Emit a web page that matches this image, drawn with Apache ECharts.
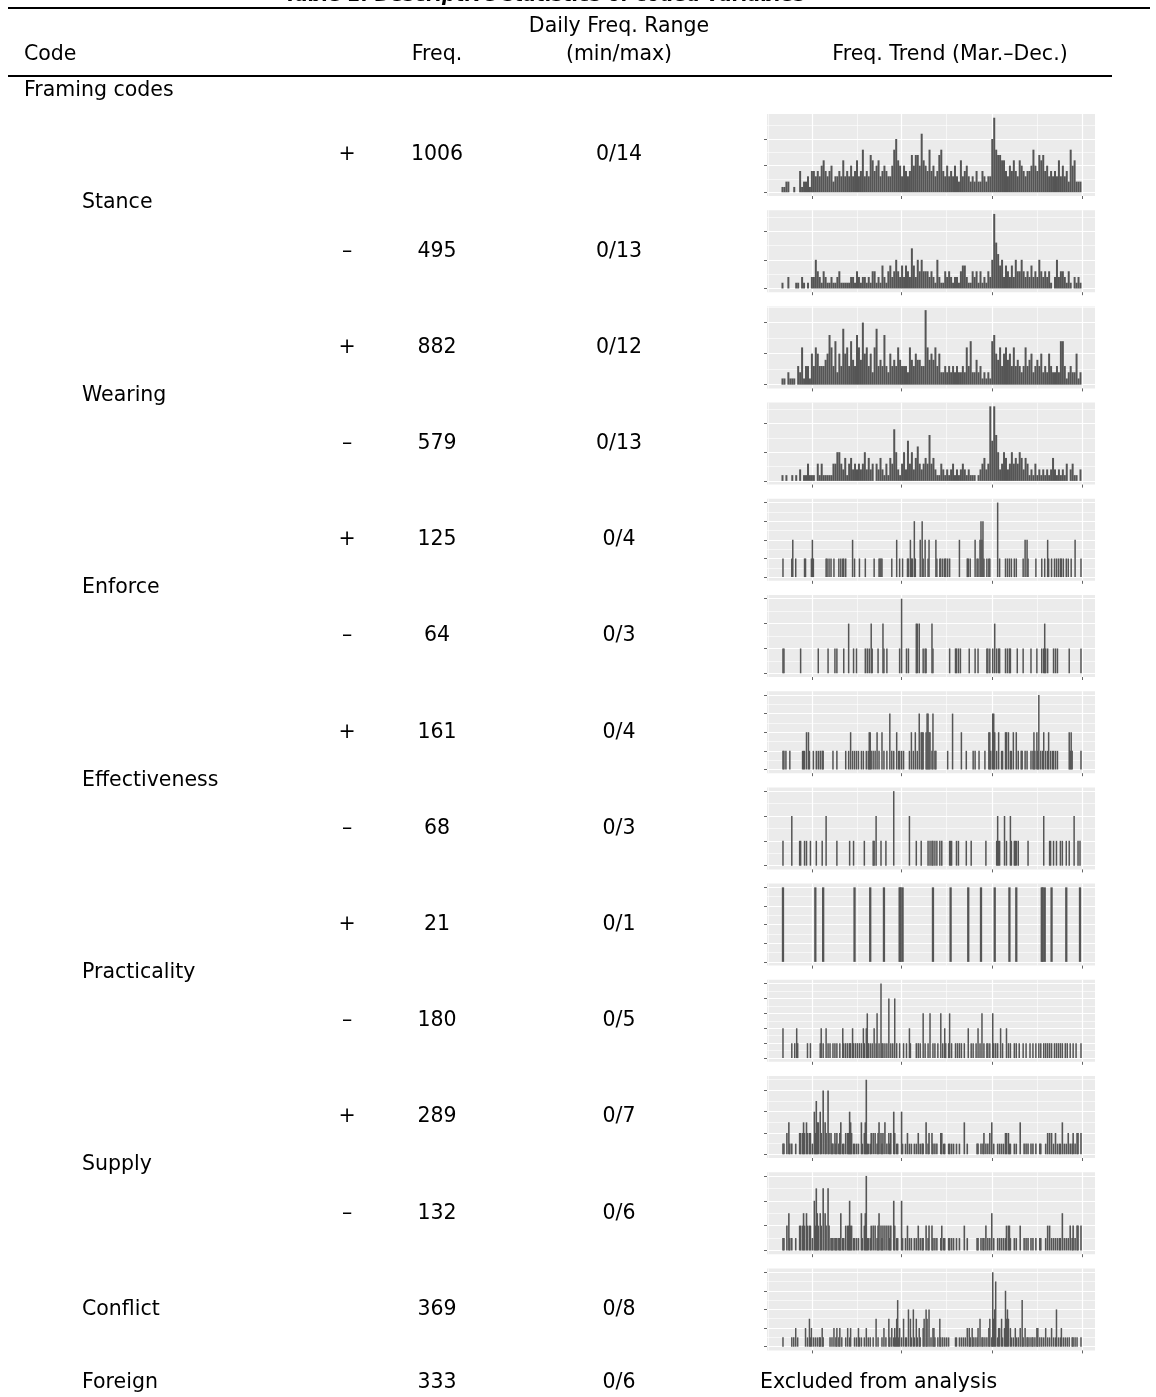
<!DOCTYPE html>
<html><head><meta charset="utf-8">
<script src="https://cdn.jsdelivr.net/npm/echarts@6/dist/echarts.min.js"></script>
<style>html,body{margin:0;padding:0;background:#fff}#c{width:1156px;height:1397px}</style>
</head><body><div id="c"></div>
<script>
// ---------- table text ----------
const codeNames = ['Stance','Wearing','Enforce','Effectiveness','Practicality','Supply'];
const freqPos = [1006, 882, 125, 161, 21, 289];
const freqNeg = [495, 579, 64, 68, 180, 132];
const maxPos = [14, 12, 4, 4, 1, 7];
const maxNeg = [13, 13, 3, 3, 5, 6];
const conflictFreq = 369, conflictMax = 8;
const foreignFreq = 333, foreignMax = 6;

// ---------- daily series (2-day bins, Mar 1 onward) ----------
const stancePos = [1,1,2,2,0,0,1,0,0,4, 1,2,2,3,1,4,4,3,4,3, 5,6,4,3,4,5,2,3,3,4, 3,6,3,4,3,5,3,4,6,3, 4,8,3,4,3,7,6,4,5,6, 3,4,5,4,3,3,5,8,10,6, 5,3,5,4,3,4,7,5,7,7, 5,11,6,5,4,8,4,5,3,4, 7,8,4,3,5,3,4,3,5,3, 2,6,3,4,5,3,2,3,2,4, 2,2,4,3,2,3,3,10,14,8, 7,7,6,6,4,3,5,4,6,4, 3,6,5,4,3,4,4,5,8,5, 4,7,6,7,4,5,3,4,3,4, 3,6,3,5,3,4,2,8,5,6, 2,2,2];
const stanceNeg = [1,0,0,2,0,0,0,1,1,0, 2,1,0,1,0,2,2,5,3,2, 1,3,2,1,1,2,1,1,2,3, 1,1,1,1,1,2,2,1,3,2, 1,2,2,1,2,1,3,3,1,2, 1,4,2,1,3,4,2,3,5,3, 2,4,2,4,3,2,7,4,2,5, 3,5,3,3,3,2,3,2,1,5, 2,1,1,3,2,3,2,1,2,2, 1,3,4,4,2,1,1,3,2,3, 1,3,1,2,1,3,2,5,13,8, 6,4,5,2,4,3,2,4,2,5, 3,3,5,3,2,3,2,4,2,3, 2,5,3,2,3,2,3,1,0,2, 5,2,3,3,2,1,3,1,0,2, 1,2,1];
const wearingPos = [1,1,0,2,1,1,1,0,3,2, 6,1,3,3,1,5,3,6,5,3, 3,3,4,5,8,6,3,7,2,5, 3,9,5,6,3,7,4,3,8,6, 4,10,5,6,3,5,2,6,9,3, 4,3,8,3,2,5,3,4,3,6, 4,3,3,3,2,6,4,3,5,4, 4,3,3,12,6,4,5,4,6,3, 5,2,2,3,2,3,2,3,2,3, 2,2,3,2,6,3,7,2,2,4, 2,3,1,2,1,2,1,7,8,5, 4,6,3,5,6,4,5,3,6,3, 4,3,2,3,6,3,4,5,2,3, 4,3,5,2,3,2,5,3,2,2, 3,2,7,7,3,1,2,3,2,2, 5,1,2];
const wearingNeg = [1,0,1,0,0,1,0,1,0,2, 0,1,1,3,1,1,1,0,3,1, 3,1,1,1,1,1,3,3,5,5, 3,2,4,1,3,4,2,3,2,3, 2,3,5,2,4,2,3,0,3,2, 4,2,1,3,1,4,3,9,5,2, 1,3,5,2,7,3,5,2,4,6, 3,2,3,4,3,8,3,4,2,1, 1,3,2,1,2,1,2,3,1,2, 1,2,3,2,1,2,1,1,1,0, 1,2,3,4,2,3,13,7,13,8, 5,2,3,5,4,2,3,5,3,4, 3,5,4,2,4,3,1,2,1,3, 1,2,1,2,1,2,1,2,4,2, 1,2,1,2,1,3,0,2,3,1, 1,0,2];

// ---------- sparse series (day index from Mar 1, count) ----------
const enforcePosDays = [1,10,11,14,23,24,30,31,32,45, 46,48,50,53,58,60,62,63,65,72, 74,79,85,94,99,100,101,102,112,117, 120,123,128,129,131,132,133,135,136,141, 143,144,146,149,150,157,158,161,162,164, 166,167,169,171,181,189,190,192,197,199, 200,202,203,204,205,206,209,211,212,220, 222,228,230,232,234,237,239,246,248,250, 251,259,265,268,271,272,275,278,280,282, 284,285,287,290,292,295,299,305];
const enforcePosVals = [1,1,2,1,1,1,1,2,1,1, 1,1,1,1,1,1,1,1,1,2, 1,1,1,1,1,1,1,1,1,2, 1,1,1,1,2,1,1,3,1,2, 3,1,2,1,2,2,1,1,1,1, 1,1,1,1,2,1,1,1,2,1, 1,2,3,2,3,1,1,1,1,4, 1,1,1,1,1,1,1,1,2,2, 1,1,1,1,2,1,1,1,1,1, 1,1,1,1,1,1,2,1];
const enforceNegDays = [1,2,19,37,47,54,56,63,68,73, 76,85,87,89,91,92,98,103,104,107, 120,122,127,129,137,138,140,144,146,147, 153,154,171,177,178,180,182,191,197,200, 209,210,212,215,217,219,221,222,228,230, 232,233,240,246,254,260,265,267,268,269, 271,277,279,281,293,305];
const enforceNegVals = [1,1,1,1,1,1,1,1,2,1, 1,1,1,1,2,1,1,2,1,1, 1,3,1,1,2,2,2,1,1,1, 2,1,1,1,1,1,1,1,1,1, 1,1,1,1,2,1,1,1,1,1, 1,1,1,1,1,1,1,1,2,1, 1,1,1,1,1,1];
const effectPosDays = [1,2,4,8,21,22,23,25,27,28, 32,35,37,39,41,42,52,56,65,68, 70,72,74,76,78,81,83,86,88,89, 90,91,93,95,97,99,102,104,107,110, 112,114,117,119,120,122,124,130,132,134, 136,138,140,142,143,144,147,148,149,150, 151,153,154,156,157,169,174,183,188,195, 197,201,207,211,212,213,215,216,217,219, 221,224,225,228,229,231,233,234,236,239, 241,244,245,248,250,254,256,257,258,260, 261,262,264,266,267,269,271,272,274,276, 277,279,281,293,294,295,296,305];
const effectPosVals = [1,1,1,1,1,1,1,2,2,1, 1,1,1,1,1,1,1,1,1,1, 2,1,1,1,1,1,1,1,1,2, 2,1,1,1,2,1,2,1,1,3, 1,1,2,1,1,1,1,1,2,1, 2,1,3,2,2,2,2,3,3,2, 2,1,3,1,1,1,3,2,1,1, 1,1,1,2,2,1,3,3,2,1, 2,1,1,2,2,2,1,1,2,2, 1,1,1,1,1,1,1,2,1,2, 1,4,1,1,2,1,1,2,1,1, 1,1,1,2,1,2,1,1];
const effectNegDays = [1,10,18,19,23,25,29,35,41,45, 56,69,73,84,93,94,96,101,106,114, 130,137,142,149,151,153,154,156,158,161, 163,171,172,173,178,180,188,193,208,219, 220,221,222,227,229,233,234,237,238,239, 241,251,267,273,274,277,280,284,286,290, 293,298,302,304];
const effectNegVals = [1,2,1,1,1,1,1,1,1,2, 1,1,1,1,1,1,2,1,1,3, 2,1,1,1,1,1,1,1,1,1, 1,1,1,1,1,1,1,1,1,1, 2,1,1,2,1,2,1,1,1,1, 1,1,2,1,1,1,1,1,1,1, 1,2,1,1];
const practPosDays = [1,34,42,74,90,104,120,121,123,154,172,190,203,217,232,239,265,266,268,275,290,304];
const practPosVals = [1,1,1,1,1,1,1,1,1,1,1,1,1,1,1,1,1,1,1,1,1,1];
const practNegDays = [1,10,13,15,16,26,29,39,40,42, 45,47,49,52,54,56,59,62,63,65, 67,69,70,72,73,75,77,79,81,83, 84,86,87,88,90,92,94,96,97,99, 101,102,103,105,107,109,111,113,115,117, 120,124,127,130,131,137,139,141,144,146, 149,151,154,156,159,162,164,166,167,170, 171,173,177,179,181,183,186,190,193,195, 198,200,202,204,206,209,210,212,215,216, 218,220,223,225,229,231,233,237,239,242, 246,249,253,256,259,262,264,267,269,271, 273,275,278,280,282,284,286,289,291,294, 297,300,305];
const practNegVals = [2,1,1,2,1,1,1,1,2,1, 2,1,1,1,1,1,1,2,1,1, 1,1,1,2,1,1,1,1,1,2, 1,2,3,1,1,1,2,1,3,1, 5,1,1,1,1,4,1,1,4,1, 1,1,1,2,1,1,1,1,3,1, 1,3,1,1,1,3,1,2,1,1, 3,1,1,1,1,1,1,2,1,1, 1,2,1,3,1,1,1,1,3,1, 1,1,2,1,2,1,1,1,1,1, 1,1,1,1,1,1,1,1,1,1, 1,1,1,1,1,1,1,1,1,1, 1,1,1];
const supplyDays = [1,2,5,7,8,10,14,18,19,21, 22,23,25,26,28,29,31,33,34,35, 36,37,39,40,42,44,45,47,48,50, 51,52,54,55,56,58,59,60,62,63, 65,67,68,69,70,71,73,74,76,78, 81,82,84,85,86,87,88,90,91,93, 95,97,98,99,101,102,103,105,107,109, 110,111,114,115,117,118,122,123,126,128, 130,132,135,137,139,141,143,144,147,149, 150,153,154,156,158,162,163,165,166,170, 171,173,175,178,181,186,189,199,200,203, 205,206,208,210,212,214,216,220,222,224, 226,228,229,231,232,233,237,239,243,247, 249,251,254,256,259,263,264,269,271,273, 275,277,279,281,283,284,286,288,290,292, 294,296,297,299,301,302,305];
const supplyPosVals = [1,1,2,3,1,1,1,2,2,2, 3,2,3,2,2,2,1,4,2,5, 3,3,4,2,6,3,2,6,2,2, 1,1,2,1,2,1,2,3,1,1, 2,2,2,4,3,2,1,1,1,1, 3,1,2,3,7,1,1,1,2,2, 2,1,2,3,2,1,2,3,1,2, 1,2,4,2,1,1,4,1,1,2, 1,1,1,1,2,1,1,1,3,1, 2,2,1,1,1,2,2,1,1,1, 1,1,1,1,1,3,1,1,1,1, 1,2,1,1,2,3,1,1,1,1, 1,2,2,2,1,1,1,1,3,1, 1,1,1,1,1,1,1,1,2,2, 2,1,2,1,1,1,3,1,1,2, 1,1,2,1,2,2,2];
const supplyNegVals = [1,1,2,3,1,1,1,2,2,2, 3,2,3,2,2,2,1,4,2,5, 3,2,3,2,5,3,2,5,2,1, 1,1,1,1,1,1,1,3,1,1, 2,2,2,4,2,2,1,1,1,1, 3,1,2,3,6,1,1,1,2,2, 2,1,2,3,2,1,2,2,2,2, 1,2,4,2,1,1,4,1,1,2, 1,1,1,1,2,1,1,1,2,1, 2,2,1,1,1,1,2,1,1,1, 1,1,1,1,1,2,1,1,1,1, 1,1,2,1,1,3,1,1,1,1, 1,1,2,2,2,1,1,1,2,1, 1,1,1,1,1,1,1,1,2,2, 1,1,1,1,1,1,3,1,1,1, 2,1,2,1,2,2,2];
const conflictDays = [1,10,12,14,16,24,26,28,29,30, 32,34,36,38,39,41,42,49,51,53, 55,56,58,59,61,65,67,69,70,74, 76,78,79,81,84,86,88,90,93,96, 98,102,104,106,109,110,112,114,115,116, 117,118,119,120,122,124,126,127,129,131, 132,134,135,137,138,140,141,144,145,147, 148,150,152,154,155,156,159,161,162,164, 166,168,170,177,178,181,183,185,187,189, 191,192,194,195,197,199,200,202,204,205, 207,209,211,212,214,215,216,217,218,220, 221,222,224,225,227,228,229,230,231,233, 234,236,238,239,241,243,245,246,248,250, 251,253,255,256,258,260,261,263,265,267, 269,271,273,275,277,279,280,282,284,285, 287,289,291,293,296,297,299,301,305];
const conflictVals = [1,1,1,2,1,2,1,3,1,2, 1,1,1,1,1,2,1,1,1,2, 1,2,1,2,1,1,2,1,2,1, 1,2,1,1,1,2,1,1,1,3, 1,1,2,1,3,1,2,1,2,1, 3,5,1,2,1,3,1,1,4,3, 1,4,1,3,1,2,1,2,3,4, 3,4,1,2,2,1,1,3,1,1, 1,1,1,1,1,1,1,1,1,2, 2,1,2,1,1,1,2,3,1,1, 1,1,2,3,1,8,3,4,7,1, 2,2,3,1,2,6,3,4,3,2, 1,1,2,1,1,2,5,1,2,1, 1,1,1,1,1,2,2,1,1,1, 2,1,1,2,1,1,4,1,1,2, 1,1,1,1,1,1,1,1,1];

// axis breaks (days from Mar 1): Apr 1, Jul 1, Oct 1, Jan 1
const dateBreaks = [31, 122, 214, 306];
const dateMinor = [-14.5, 76.5, 168, 260];

// ---------- build ----------
const fromBins = v => v.map((y, k) => [2 * k + 0.5, y]).filter(p => p[1] > 0);
const fromPairs = (d, v) => d.map((x, i) => [x, v[i]]);

const panels = [
  {max: maxPos[0], br: [0,5,10], data: fromBins(stancePos), w: 2},
  {max: maxNeg[0], br: [0,5,10], data: fromBins(stanceNeg), w: 2},
  {max: maxPos[1], br: [0,5,10], data: fromBins(wearingPos), w: 2},
  {max: maxNeg[1], br: [0,5,10], data: fromBins(wearingNeg), w: 2},
  {max: maxPos[2], br: [0,1,2,3,4], data: fromPairs(enforcePosDays, enforcePosVals), w: 1.5},
  {max: maxNeg[2], br: [0,1,2,3], data: fromPairs(enforceNegDays, enforceNegVals), w: 1.5},
  {max: maxPos[3], br: [0,1,2,3,4], data: fromPairs(effectPosDays, effectPosVals), w: 1.5},
  {max: maxNeg[3], br: [0,1,2,3], data: fromPairs(effectNegDays, effectNegVals), w: 1.5},
  {max: maxPos[4], br: [0,0.25,0.5,0.75,1], data: fromPairs(practPosDays, practPosVals), w: 2.3},
  {max: maxNeg[4], br: [0,1,2,3,4,5], data: fromPairs(practNegDays, practNegVals), w: 1.5},
  {max: maxPos[5], br: [0,2,4,6], data: fromPairs(supplyDays, supplyPosVals), w: 1.6},
  {max: maxNeg[5], br: [0,2,4,6], data: fromPairs(supplyDays, supplyNegVals), w: 1.6},
  {max: conflictMax, br: [0,2,4,6,8], data: fromPairs(conflictDays, conflictVals), w: 1.5}
];

const ROW0 = 155, STEP = 96.2, PH = 82, PL = 767, PW = 328;
const XMIN = -15.3, XMAX = 319.3;
const grids = [], xAxes = [], yAxes = [], series = [];
panels.forEach((p, i) => {
  const top = ROW0 + STEP * i - PH / 2;
  grids.push({left: PL, top: top, width: PW, height: PH, show: true,
    backgroundColor: '#EBEBEB', borderWidth: 0});
  const step = p.br[1] - p.br[0];
  const minors = p.br.map(b => b + step / 2).filter(v => v <= p.max * 1.05);
  const ymin = -0.05 * p.max, ymax = 1.05 * p.max;
  xAxes.push({gridIndex: i, type: 'value', min: XMIN, max: XMAX, position: 'bottom',
    axisLine: {show: false, onZero: false}, axisLabel: {show: false},
    axisTick: {show: true, length: 3, lineStyle: {color: '#666', width: 1}, customValues: dateBreaks},
    splitLine: {show: true, lineStyle: {color: '#ffffff', width: 1.2}}});
  xAxes.push({gridIndex: i, type: 'value', min: XMIN, max: XMAX, position: 'top',
    axisLine: {show: false, onZero: false}, axisLabel: {show: false},
    axisTick: {show: false, customValues: dateMinor},
    splitLine: {show: true, lineStyle: {color: '#ffffff', width: 0.6}}});
  yAxes.push({gridIndex: i, type: 'value', min: ymin, max: ymax, position: 'left',
    axisLine: {show: false, onZero: false}, axisLabel: {show: false},
    axisTick: {show: true, length: 3, lineStyle: {color: '#666', width: 1}, customValues: p.br},
    splitLine: {show: true, lineStyle: {color: '#ffffff', width: 1.2}}});
  yAxes.push({gridIndex: i, type: 'value', min: ymin, max: ymax, position: 'right',
    axisLine: {show: false, onZero: false}, axisLabel: {show: false},
    axisTick: {show: false, customValues: minors},
    splitLine: {show: true, lineStyle: {color: '#ffffff', width: 0.6}}});
  series.push({type: 'bar', xAxisIndex: 2 * i, yAxisIndex: 2 * i, data: p.data,
    barWidth: p.w, itemStyle: {color: '#555555'}, silent: true, animation: false});
});

// ---------- table text ----------
const FF = '"DejaVu Sans", Verdana, sans-serif';
const F = '20.5px ' + FF;
function txt(s, x, y, align, font) {
  return {type: 'text', x: x, y: y, silent: true, z: 10,
    style: {text: s, fill: '#000', font: font || F,
      align: align || 'left', verticalAlign: 'middle',
      textAlign: align || 'left', textVerticalAlign: 'middle'}};
}
function rule(y, x1, x2, w) {
  return {type: 'line', silent: true, z: 10, shape: {x1: x1, y1: y, x2: x2, y2: y},
    style: {stroke: '#000', lineWidth: w}};
}
const COL_CODE = 24, COL_NAME = 82, COL_SIGN = 347, COL_FREQ = 437, COL_RANGE = 619, COL_TREND = 950;
const g = [];
g.push({type: 'text', x: 545, y: 6, silent: true,
  style: {text: 'Table 1. Descriptive statistics of coded variables', fill: '#000',
    font: 'italic bold 19px ' + FF, align: 'center', verticalAlign: 'bottom',
    textAlign: 'center', textVerticalAlign: 'bottom'}});
g.push(rule(8, 8, 1150, 2));
g.push(txt('Daily Freq. Range', COL_RANGE, 27, 'center'));
g.push(txt('Code', COL_CODE, 55, 'left'));
g.push(txt('Freq.', COL_FREQ, 55, 'center'));
g.push(txt('(min/max)', COL_RANGE, 55, 'center'));
g.push(txt('Freq. Trend (Mar.\u2013Dec.)', COL_TREND, 55, 'center'));
g.push(rule(76, 8, 1112, 2));
g.push(txt('Framing codes', COL_CODE, 91, 'left'));
codeNames.forEach((name, k) => {
  const yp = ROW0 + STEP * (2 * k), yn = ROW0 + STEP * (2 * k + 1);
  g.push(txt('+', COL_SIGN, yp, 'center'));
  g.push(txt(String(freqPos[k]), COL_FREQ, yp, 'center'));
  g.push(txt('0/' + maxPos[k], COL_RANGE, yp, 'center'));
  g.push(txt(name, COL_NAME, (yp + yn) / 2, 'left'));
  g.push(txt('\u2013', COL_SIGN, yn, 'center'));
  g.push(txt(String(freqNeg[k]), COL_FREQ, yn, 'center'));
  g.push(txt('0/' + maxNeg[k], COL_RANGE, yn, 'center'));
});
const yc = ROW0 + STEP * 12;
g.push(txt('Conflict', COL_NAME, yc, 'left'));
g.push(txt(String(conflictFreq), COL_FREQ, yc, 'center'));
g.push(txt('0/' + conflictMax, COL_RANGE, yc, 'center'));
const yf = 1383;
g.push(txt('Foreign', COL_NAME, yf, 'left'));
g.push(txt(String(foreignFreq), COL_FREQ, yf, 'center'));
g.push(txt('0/' + foreignMax, COL_RANGE, yf, 'center'));
g.push(txt('Excluded from analysis', 760, yf, 'left'));

const chart = echarts.init(document.getElementById('c'), null, {renderer: 'canvas'});
chart.setOption({
  animation: false,
  backgroundColor: '#ffffff',
  grid: grids, xAxis: xAxes, yAxis: yAxes, series: series,
  graphic: g
});
</script></body></html>
